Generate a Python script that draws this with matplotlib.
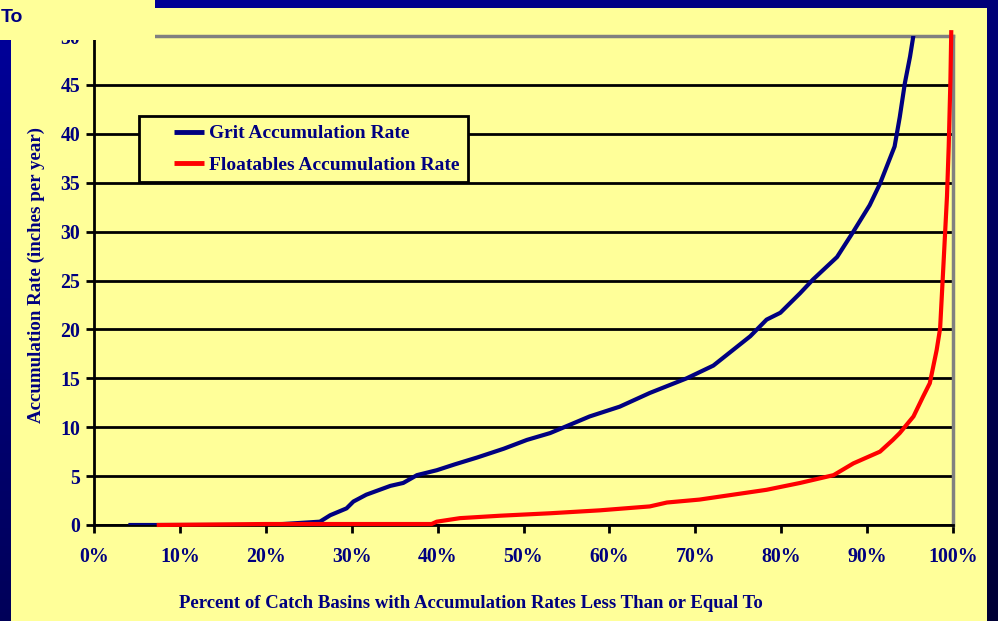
import numpy as np
import matplotlib
matplotlib.use("Agg")
import matplotlib.pyplot as plt
from matplotlib.patches import Rectangle
from matplotlib.colors import LinearSegmentedColormap
from matplotlib.legend_handler import HandlerLine2D

# percent of catch basins (x) vs accumulation rate in inches per year (y)
grit_pct = [4, 10, 18, 22, 26.3, 27.5, 29.4, 30.2, 31.7, 34.5, 36, 37.6, 39.9, 42,
            44.6, 47.7, 50.4, 53.1, 55, 57.7, 61.2, 64.7, 69, 72.1, 76.4, 78.3,
            79.9, 82.2, 83.7, 86.5, 88.4, 90.3, 91.5, 93.2, 93.8, 94.4, 95.0, 95.4]
grit_rate = [0, 0, 0, 0.1, 0.34, 1.0, 1.7, 2.4, 3.1, 4.0, 4.3, 5.1, 5.6, 6.2,
             6.9, 7.8, 8.7, 9.4, 10.1, 11.1, 12.1, 13.5, 15.0, 16.3, 19.3, 21.0,
             21.7, 23.7, 25.1, 27.4, 30.0, 32.7, 34.9, 38.7, 41.7, 45.2, 47.9, 50.1]

float_pct = [7.3, 20, 39.3, 39.9, 42.6, 47.3, 53.1, 58.9, 64.7, 66.7, 70.5, 74.4,
             78.3, 82.2, 86.1, 88.4, 91.5, 93.0, 93.8, 95.4, 96.5, 97.3, 98.1,
             98.5, 98.9, 99.3, 99.5, 99.7, 99.8]
float_rate = [0, 0.1, 0.1, 0.34, 0.7, 0.95, 1.2, 1.5, 1.9, 2.3, 2.6, 3.1,
              3.6, 4.3, 5.1, 6.3, 7.5, 8.7, 9.4, 11.1, 13.1, 14.5, 17.9,
              20.1, 26.8, 33.6, 38.7, 45.5, 50.6]

x_ticks = [0, 10, 20, 30, 40, 50, 60, 70, 80, 90, 100]
y_ticks = [0, 5, 10, 15, 20, 25, 30, 35, 40, 45, 50]

W, H = 998, 621
yellow = "#FFFF99"
navy = "#000080"
serif = "Liberation Serif"


class ShortLine(HandlerLine2D):
    # legend line drawn only in the right half of the handle box
    def create_artists(self, legend, orig_handle, xdescent, ydescent,
                       width, height, fontsize, trans):
        arts = super().create_artists(legend, orig_handle, xdescent, ydescent,
                                      width, height, fontsize, trans)
        x0 = -xdescent
        for a in arts:
            n = len(a.get_xdata())
            a.set_xdata(np.linspace(x0 + 0.47 * width, x0 + width, n))
        return arts


fig = plt.figure(figsize=(W / 100, H / 100), dpi=100)

# dark blue slide background
bg = fig.add_axes([0, 0, 1, 1], zorder=-10)
gx, gy = np.meshgrid(np.linspace(0, 1, 200), np.linspace(0, 1, 200))
grad = 0.35 * gx + 0.65 * gy
cmap = LinearSegmentedColormap.from_list("bg", ["#00009C", "#000035"])
bg.imshow(grad, cmap=cmap, aspect="auto", extent=[0, 1, 0, 1])
bg.set_axis_off()

# yellow panel
fig.patches.append(Rectangle((11 / W, 0), (987 - 11) / W, 1 - 8 / H,
                             transform=fig.transFigure, facecolor=yellow,
                             edgecolor="none", zorder=-5))

ax = fig.add_axes([94 / W, 1 - 525 / H, (953 - 94) / W, (525 - 36) / H])
ax.set_facecolor(yellow)

ax.plot(grit_pct, grit_rate, color=navy, lw=3, label="Grit Accumulation Rate",
        solid_capstyle="butt", zorder=3)
ax.plot(float_pct, float_rate, color="#FF0000", lw=3,
        label="Floatables Accumulation Rate", solid_capstyle="butt", zorder=3,
        clip_on=False)

ax.set_xlim(0, 100)
ax.set_ylim(0, 50)
ax.set_xticks(x_ticks)
ax.set_xticklabels([f"{v}%" for v in x_ticks])
ax.set_yticks(y_ticks)
ax.grid(axis="y", color="black", lw=2)
ax.set_axisbelow(True)

ax.tick_params(axis="x", direction="out", length=6, width=2, pad=10,
               labelsize=14.3, labelcolor=navy)
ax.tick_params(axis="y", direction="out", length=6, width=2, pad=4,
               labelsize=14.3, labelcolor=navy)
for lab in ax.get_xticklabels() + ax.get_yticklabels():
    lab.set_fontfamily(serif)
    lab.set_fontweight("bold")

for side in ["left", "bottom"]:
    ax.spines[side].set_color("black")
    ax.spines[side].set_linewidth(2)
for side in ["top", "right"]:
    ax.spines[side].set_color("#808080")
    ax.spines[side].set_linewidth(2.5)

leg = ax.legend(loc="upper left", bbox_to_anchor=(45 / 859, (525 - 116) / 489),
                borderaxespad=0, frameon=True, fancybox=False,
                facecolor=yellow, edgecolor="black", framealpha=1,
                handlelength=2.9, borderpad=0.45, labelspacing=0.7,
                handletextpad=0.25,
                handler_map={plt.Line2D: ShortLine()},
                prop={"family": serif, "weight": "bold", "size": 14})
leg.get_frame().set_linewidth(2)
for t in leg.get_texts():
    t.set_color(navy)
for l in leg.get_lines():
    l.set_linewidth(3.5)

fig.text(471 / W, 1 - 604 / H,
         "Percent of Catch Basins with Accumulation Rates Less Than or Equal To",
         ha="center", va="center", color=navy, fontsize=13.5,
         fontfamily=serif, fontweight="bold")
fig.text(36 / W, 1 - 275 / H, "Accumulation Rate (inches per year)",
         ha="center", va="center", rotation=90, color=navy, fontsize=13.6,
         fontfamily=serif, fontweight="bold")

# leftover title box in the top-left corner
fig.patches.append(Rectangle((0, 1 - 40 / H), 155 / W, 40 / H,
                             transform=fig.transFigure, facecolor=yellow,
                             edgecolor="none", zorder=10))
fig.text(1 / W, 1 - 17 / H, "To", ha="left", va="center", color=navy,
         fontsize=14, fontfamily="Liberation Sans", fontweight="bold", zorder=11)

fig.savefig("out.png", dpi=100)
